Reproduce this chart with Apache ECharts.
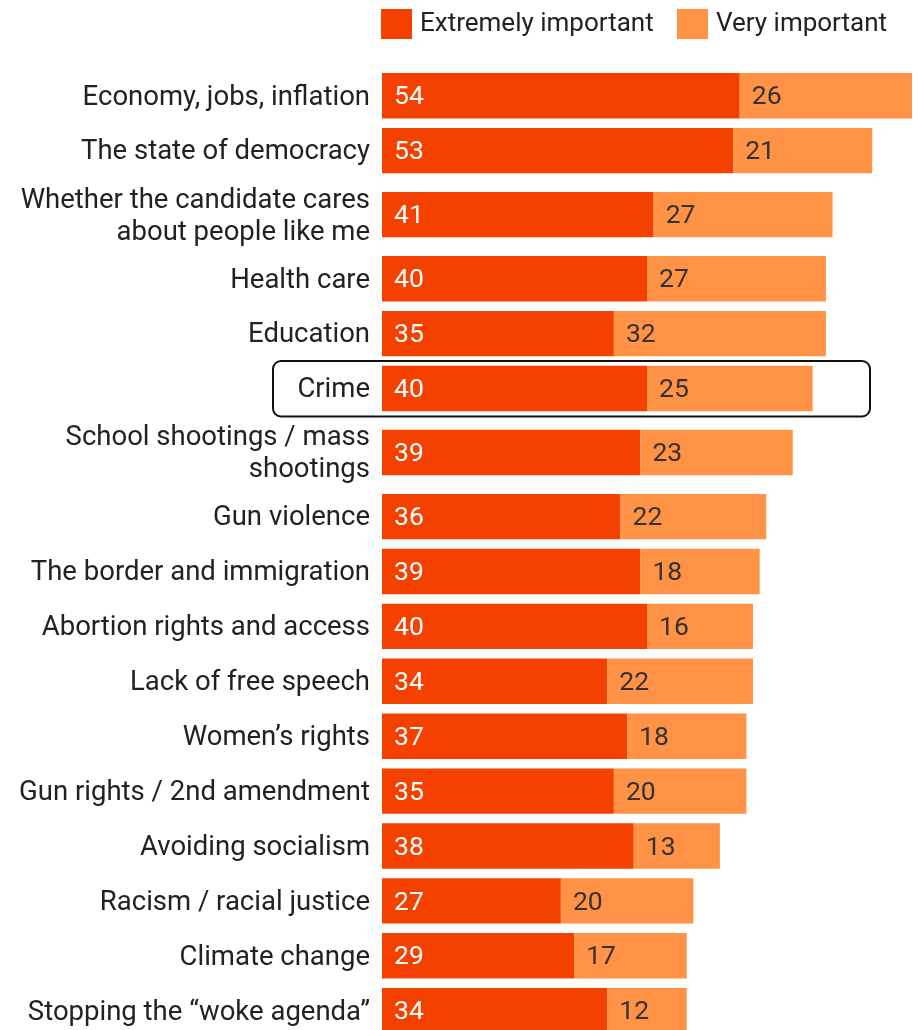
<!DOCTYPE html>
<html>
<head>
<meta charset="utf-8">
<script src="https://cdn.jsdelivr.net/npm/echarts@6/dist/echarts.min.js"></script>
<style>
  html, body { margin: 0; padding: 0; background: #ffffff; }
  #chart { width: 918px; height: 1030px; }
</style>
</head>
<body>
<div id="chart"></div>
<script>
// Issues rated by importance (%)
const categories = [
  'Economy, jobs, inflation',
  'The state of democracy',
  'Whether the candidate cares\nabout people like me',
  'Health care',
  'Education',
  'Crime',
  'School shootings / mass\nshootings',
  'Gun violence',
  'The border and immigration',
  'Abortion rights and access',
  'Lack of free speech',
  'Women\u2019s rights',
  'Gun rights / 2nd amendment',
  'Avoiding socialism',
  'Racism / racial justice',
  'Climate change',
  'Stopping the \u201cwoke agenda\u201d'
];
const extremely = [54, 53, 41, 40, 35, 40, 39, 36, 39, 40, 34, 37, 35, 38, 27, 29, 34];
const very      = [26, 21, 27, 27, 32, 25, 23, 22, 18, 16, 22, 18, 20, 13, 20, 17, 12];
const seriesNames = ['Extremely important', 'Very important'];
const highlighted = 'Crime';

const COLORS = ['#F54100', '#FF9245'];
const LABEL_COLORS = ['#ffffff', '#333333'];
const FONT = 'Roboto, "Noto Sans", sans-serif';

// Row extents along the vertical axis: two-line labels get a taller row.
const SINGLE_ROW = 54.9, DOUBLE_ROW = 73.2;
const rowCenters = [];
let acc = 0;
categories.forEach(c => {
  const h = c.indexOf('\n') >= 0 ? DOUBLE_ROW : SINGLE_ROW;
  rowCenters.push(acc + h / 2);
  acc += h;
});
const totalRows = acc;

const extData = extremely.map((v, i) => [0, v, rowCenters[i], v]);
const veryData = very.map((v, i) => [extremely[i], extremely[i] + v, rowCenters[i], v]);
const nameData = categories.map((c, i) => [0, rowCenters[i]]);

function barRenderer(si) {
  return function (params, api) {
    const y = api.value(2);
    const p0 = api.coord([api.value(0), y]);
    const p1 = api.coord([api.value(1), y]);
    const h = 45.4;
    return {
      type: 'rect',
      shape: { x: p0[0], y: p0[1] - h / 2, width: p1[0] - p0[0], height: h },
      style: { fill: COLORS[si] },
      textContent: {
        style: {
          text: String(api.value(3)),
          fill: LABEL_COLORS[si],
          fontSize: 26.5,
          fontFamily: FONT
        }
      },
      textConfig: { position: 'insideLeft', distance: 12, offset: [0, 2] }
    };
  };
}

const legendBase = {
  top: 9,
  padding: 0,
  icon: 'rect',
  itemWidth: 31,
  itemHeight: 30,
  selectedMode: false,
  textStyle: { fontSize: 26, color: '#222222', fontFamily: FONT, padding: [0, 0, 0, 3] }
};

const chart = echarts.init(document.getElementById('chart'), null, { renderer: 'canvas' });

chart.setOption({
  backgroundColor: '#ffffff',
  animation: false,
  color: COLORS,
  legend: [
    Object.assign({ data: [seriesNames[0]], left: 381 }, legendBase),
    Object.assign({ data: [seriesNames[1]], left: 677 }, legendBase)
  ],
  grid: { left: 382, top: 68.25, width: 530, height: totalRows, outerBoundsMode: 'none' },
  xAxis: { type: 'value', min: 0, max: 80, show: false },
  yAxis: { type: 'value', min: 0, max: totalRows, inverse: true, show: false },
  series: [
    {
      name: seriesNames[0],
      type: 'custom',
      itemStyle: { color: COLORS[0] },
      encode: { x: [0, 1], y: 2 },
      data: extData,
      renderItem: barRenderer(0)
    },
    {
      name: seriesNames[1],
      type: 'custom',
      itemStyle: { color: COLORS[1] },
      encode: { x: [0, 1], y: 2 },
      data: veryData,
      renderItem: barRenderer(1)
    },
    {
      name: 'categoryNames',
      type: 'custom',
      encode: { x: 0, y: 1 },
      data: nameData,
      renderItem: function (params, api) {
        const p = api.coord([api.value(0), api.value(1)]);
        return {
          type: 'text',
          x: p[0] - 12,
          y: p[1] + 2,
          style: {
            text: categories[params.dataIndex],
            fill: '#222222',
            fontSize: 27.5,
            lineHeight: 32,
            fontFamily: FONT,
            align: 'right',
            verticalAlign: 'middle'
          }
        };
      }
    }
  ]
});

// Outline around the highlighted row
const hi = categories.indexOf(highlighted);
const cy = chart.convertToPixel({ yAxisIndex: 0 }, rowCenters[hi]);
chart.setOption({
  graphic: [{
    type: 'rect',
    shape: { x: 273, y: cy - 27.5, width: 597, height: 55.5, r: 8 },
    style: { fill: 'none', stroke: '#111111', lineWidth: 2 },
    z: 10
  }]
});
</script>
</body>
</html>
